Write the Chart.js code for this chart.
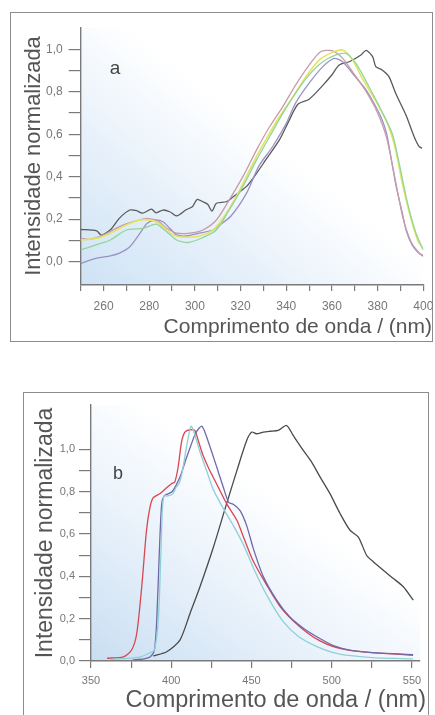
<!DOCTYPE html>
<html><head><meta charset="utf-8">
<script src="https://cdn.jsdelivr.net/npm/chart.js@4.4.1/dist/chart.umd.min.js"></script>
<style>
html,body{margin:0;padding:0;background:#fff;width:435px;height:715px;overflow:hidden;position:relative}
.frame{position:absolute;border:1px solid #8c8c8c;box-sizing:border-box}
#fa{left:10px;top:12px;width:423px;height:330px}
#fb{left:23px;top:392px;width:406px;height:340px}
canvas{position:absolute}
#ca{left:0;top:0}
#cb{left:0;top:380px}
</style></head>
<body>
<div class="frame" id="fa"></div>
<div class="frame" id="fb"></div>
<canvas id="ca" width="435" height="345"></canvas>
<canvas id="cb" width="435" height="335"></canvas>
<script>
// ---------- Panel a data ----------
const aXTicks = [250,260,270,280,290,300,310,320,330,340,350,360,370,380,390,400];
const aXLabels = ['','260','','280','','300','','320','','340','','360','','380','','400'];
const yTicks = [0,0.1,0.2,0.3,0.4,0.5,0.6,0.7,0.8,0.9,1.0];
const yLabels = ['0,0','','0,2','','0,4','','0,6','','0,8','','1,0'];

const aBlackX = [250,257,259,263,267,271.5,274.5,277,281,283,286,289,292,296,299,301,303.5,305.6,307.5,309.4,313.8,316.5,322.5,327,331,337,341,345,350,356,360,363.2,367.6,372.7,375,377.8,379.2,382,385,388,392.4,396,398.2,399.5];
const aBlackY = [0.152,0.145,0.125,0.15,0.205,0.243,0.24,0.228,0.247,0.23,0.243,0.235,0.215,0.243,0.26,0.293,0.282,0.27,0.238,0.275,0.282,0.303,0.353,0.416,0.479,0.573,0.659,0.74,0.765,0.83,0.88,0.926,0.941,0.973,0.995,0.965,0.918,0.902,0.87,0.79,0.69,0.588,0.541,0.534];

const aPurpleX = [250,257,263,267,271.5,276,279,282.5,286,289,292,296,302,308,310,315.8,322.5,328,334,340,344,350,356,361,364.7,369,375,380,382,384,388,391,392.4,395,398,400];
const aPurpleY = [-0.008,0.016,0.027,0.04,0.07,0.134,0.18,0.196,0.188,0.157,0.126,0.121,0.134,0.149,0.165,0.215,0.32,0.45,0.541,0.651,0.745,0.84,0.918,0.957,0.941,0.886,0.808,0.714,0.667,0.6,0.36,0.22,0.15,0.08,0.04,0.025];

const aPinkX = [250,254,260,267,273,279,284,287.6,292,297.7,303.5,309.4,315,321,327,332.7,338.5,344,350,355,360,364.7,369,375,380,384,388,391,394.6,398.3,400];
const aPinkY = [0.11,0.105,0.126,0.165,0.188,0.204,0.19,0.157,0.134,0.134,0.149,0.196,0.29,0.4,0.526,0.635,0.73,0.83,0.925,0.988,0.993,0.957,0.894,0.8,0.7,0.58,0.37,0.21,0.094,0.04,0.03];

const aYellowX = [250,257,263,270,276,282,286,290.5,296,302,308,313.8,319.6,325.4,331,337,343,348.6,354.4,360,364.7,369,373.4,378.4,383.5,386,388,391,394.6,396,398,400];
const aYellowY = [0.102,0.11,0.134,0.173,0.196,0.192,0.165,0.126,0.115,0.121,0.149,0.228,0.337,0.463,0.573,0.682,0.777,0.871,0.949,0.984,0.996,0.95,0.86,0.77,0.67,0.6,0.52,0.36,0.2,0.15,0.09,0.06];

const aGreenX = [250,257,263,270,277.5,283,286.7,292,297,302.8,309.4,315,321,327,332.7,338.5,344,350,356,361.8,366.2,370.5,376.4,382.2,386.5,389.5,393,396.8,400];
const aGreenY = [0.055,0.08,0.102,0.149,0.157,0.177,0.149,0.102,0.09,0.11,0.149,0.243,0.353,0.479,0.588,0.698,0.792,0.879,0.941,0.973,0.98,0.933,0.82,0.7,0.6,0.46,0.28,0.134,0.055];

// ---------- Panel b data ----------
const bXTicks = [350,375,400,425,450,475,500,525,550];
const bXLabels = ['350','','400','','450','','500','','550'];

const bBlackX = [388.8,397.2,405.4,411.7,417.9,426.3,434.5,440.9,447,450.2,453.1,457.4,461.5,466.7,471.9,476,482.3,487.5,492.7,498.9,505.2,511.4,516.6,521.7,525.9,532.1,538.4,544.6,550.8];
const bBlackY = [0.024,0.044,0.099,0.225,0.351,0.539,0.744,0.9,1.042,1.082,1.074,1.082,1.086,1.09,1.113,1.066,0.995,0.94,0.87,0.791,0.697,0.618,0.586,0.5,0.469,0.429,0.39,0.351,0.288];

const bRedX = [360,370.2,375.3,378.5,381.6,384.6,386.8,388.8,392.9,397.1,400.2,402.2,404.3,406.4,408.5,411.6,414.7,416.8,419.8,424,428.2,434.5,440.9,445,451.2,459.4,467.6,476,484.5,492.7,501,511,522,532,542.5,550.7];
const bRedY = [0.013,0.02,0.052,0.13,0.35,0.618,0.728,0.772,0.791,0.819,0.838,0.846,0.917,1.035,1.082,1.093,1.09,1.042,0.972,0.9,0.838,0.744,0.665,0.586,0.47,0.36,0.26,0.19,0.135,0.095,0.068,0.05,0.042,0.036,0.031,0.027];

const bCyanX = [362,372,381,387,389.5,392,393.5,394.5,395.5,398,401,403,405,407,409.7,412.3,414.3,417.8,422,426.2,432.5,438.7,445,451.2,459.6,469.4,479.5,490.8,500.9,512,527.3,550.7];
const bCyanY = [0.008,0.012,0.02,0.04,0.05,0.2,0.5,0.72,0.78,0.78,0.79,0.82,0.84,0.9,1.02,1.11,1.08,0.99,0.9,0.81,0.72,0.64,0.55,0.44,0.31,0.19,0.115,0.068,0.04,0.025,0.015,0.01];

const bPurpleX = [376,383,387,389.5,391,392.5,394,395.5,398,400.5,403,406,409,412.3,415.4,419,422,428.2,432.5,435.8,438.9,443,447,451.2,457.3,465.5,473.6,482.3,492.9,501.9,512.1,527.4,550.7];
const bPurpleY = [0.005,0.01,0.02,0.05,0.2,0.5,0.74,0.78,0.79,0.8,0.83,0.88,0.95,1.02,1.08,1.11,1.06,0.92,0.82,0.75,0.74,0.71,0.64,0.53,0.4,0.29,0.21,0.155,0.105,0.07,0.05,0.038,0.03];

// ---------- helpers ----------
const pts = (xs, ys) => xs.map((x, i) => ({x, y: ys[i]}));
const ds = (xs, ys, color, w) => ({data: pts(xs, ys), borderColor: color, borderWidth: w || 1.3,
  pointRadius: 0, tension: 0.25, fill: false});

const FONT = "'Liberation Sans', Arial, sans-serif";

const bgPlugin = {
  id: 'bgGrad',
  beforeDraw(chart, args, o) {
    const {ctx, chartArea: {left, top, right, bottom}} = chart;
    const w = right - left, h = bottom - top;
    const g = ctx.createLinearGradient(left, bottom, left + w * o.fx, bottom - h * o.fy);
    o.stops.forEach(s => g.addColorStop(s[0], s[1]));
    ctx.save();
    ctx.fillStyle = g;
    ctx.fillRect(left, top, w, h);
    ctx.restore();
  }
};

const textPlugin = {
  id: 'texts',
  afterDraw(chart, args, o) {
    const ctx = chart.ctx;
    ctx.save();
    ctx.fillStyle = '#555';
    ctx.font = o.ySize + 'px ' + FONT;
    ctx.textAlign = 'center';
    ctx.textBaseline = 'alphabetic';
    ctx.translate(o.yX, o.yY);
    ctx.rotate(-Math.PI / 2);
    ctx.fillText('Intensidade normalizada', 0, 0);
    ctx.setTransform(1, 0, 0, 1, 0, 0);
    ctx.font = o.xSize + 'px ' + FONT;
    ctx.textAlign = 'right';
    ctx.fillText('Comprimento de onda / (nm)', o.xR, o.xY);
    ctx.fillStyle = '#444';
    ctx.font = o.lSize + 'px ' + FONT;
    ctx.textAlign = 'center';
    ctx.fillText(o.letter, o.lX, o.lY);
    ctx.restore();
  }
};

function makeScales(cfg) {
  return {
    x: {
      type: 'linear', min: cfg.xmin, max: cfg.xmax,
      afterBuildTicks(s) { s.ticks = cfg.xTicks.map(v => ({value: v})); },
      afterFit(s) { s.height = cfg.xh; s.paddingLeft = 0; s.paddingRight = 0; },
      grid: {drawOnChartArea: false, drawTicks: true, tickLength: cfg.xTickLen, color: '#7a7a7a', lineWidth: 1.2},
      border: {color: '#7a7a7a', width: 1.4},
      ticks: {autoSkip: false, maxRotation: 0, padding: cfg.xPad, color: '#777',
        font: {size: cfg.tickSize, family: FONT},
        callback: (v, i) => cfg.xLabels[i]}
    },
    y: {
      type: 'linear', min: cfg.ymin, max: cfg.ymax,
      afterBuildTicks(s) { s.ticks = yTicks.map(v => ({value: v})); },
      afterFit(s) { s.width = cfg.yw; s.paddingTop = 0; s.paddingBottom = 0; },
      grid: {drawOnChartArea: false, drawTicks: true, tickLength: 12, color: '#7a7a7a', lineWidth: 1.2},
      border: {color: '#7a7a7a', width: 1.4},
      ticks: {autoSkip: false, padding: cfg.yPad, color: '#777',
        font: {size: cfg.tickSize, family: FONT},
        callback: (v, i) => yLabels[i]}
    }
  };
}

Chart.defaults.animation = false;

new Chart(document.getElementById('ca'), {
  type: 'line',
  data: {datasets: [
    ds(aGreenX, aGreenY, '#92d59c'),
    ds(aYellowX, aYellowY, '#e4e45c', 1.6),
    ds(aPinkX, aPinkY, '#c79aac'),
    ds(aPurpleX, aPurpleY, '#9a92c2'),
    ds(aBlackX, aBlackY, '#5a5a5a')
  ]},
  options: {
    responsive: false, devicePixelRatio: 1,
    layout: {padding: {left: 0, top: 28, right: 11.7, bottom: 0}},
    plugins: {legend: {display: false}, tooltip: {enabled: false},
      bgGrad: {fx: 0.6, fy: 1.0, stops: [[0, '#cee3f5'], [0.35, '#e6f0fa'], [0.7, '#ffffff'], [1, '#ffffff']]},
      texts: {ySize: 22, yX: 40, yY: 156, xSize: 21, xR: 432, xY: 333, letter: 'a', lSize: 19, lX: 115, lY: 74}},
    scales: makeScales({xmin: 250, xmax: 400, ymin: -0.11, ymax: 1.1, xTicks: aXTicks, xLabels: aXLabels,
      xh: 60, yw: 80.7, xTickLen: 6, xPad: 8, yPad: 6, tickSize: 12})
  },
  plugins: [bgPlugin, textPlugin]
});

new Chart(document.getElementById('cb'), {
  type: 'line',
  data: {datasets: [
    ds(bCyanX, bCyanY, '#8fd0d8'),
    ds(bPurpleX, bPurpleY, '#6f68aa'),
    ds(bRedX, bRedY, '#d94650'),
    ds(bBlackX, bBlackY, '#4a4a4a')
  ]},
  options: {
    responsive: false, devicePixelRatio: 1,
    layout: {padding: {left: 0, top: 25, right: 15, bottom: 0}},
    plugins: {legend: {display: false}, tooltip: {enabled: false},
      bgGrad: {fx: 0.6, fy: 1.1, stops: [[0, '#c9def2'], [0.35, '#e6f0fa'], [0.7, '#ffffff'], [1, '#ffffff']]},
      texts: {ySize: 23, yX: 52, yY: 153, xSize: 23.5, xR: 426, xY: 327, letter: 'b', lSize: 18, lX: 118, lY: 99}},
    scales: makeScales({xmin: 350, xmax: 555, ymin: 0, ymax: 1.21, xTicks: bXTicks, xLabels: bXLabels,
      xh: 54, yw: 91, xTickLen: 7, xPad: 6, yPad: 4, tickSize: 11})
  },
  plugins: [bgPlugin, textPlugin]
});
</script>
</body></html>
